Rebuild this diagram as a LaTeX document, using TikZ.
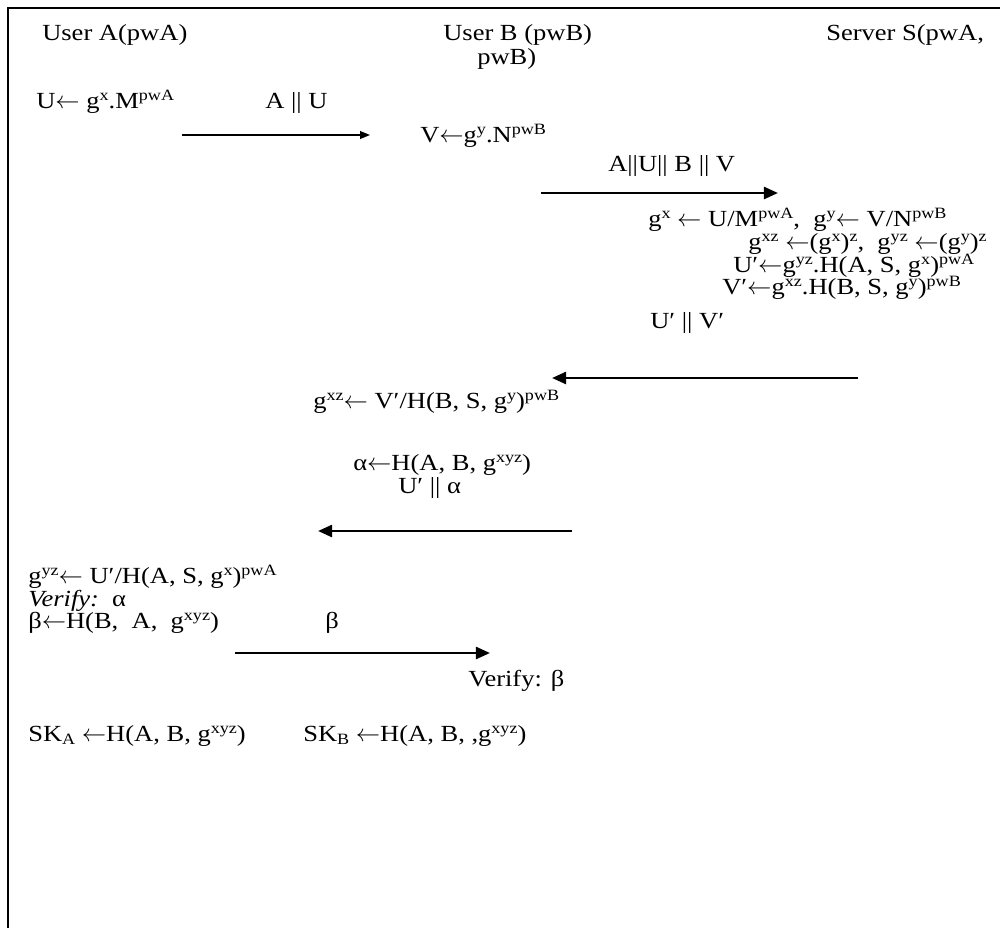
\documentclass[tikz,border=0pt]{standalone}
\usepackage{fontspec}
\setmainfont[FakeStretch=1.15]{Liberation Serif}
\usetikzlibrary{arrows.meta}
\newcommand{\sps}[1]{\raisebox{0.32em}{\fontsize{11.2}{12}\selectfont #1}}
\newcommand{\sbs}[1]{\raisebox{-0.14em}{\fontsize{11.2}{12}\selectfont #1}}
\newcommand{\la}{\ensuremath{\leftarrow}}
\begin{document}
\begin{tikzpicture}
[x=0.025cm,y=-0.025cm,every node/.style={inner sep=0pt,anchor=base west,font=\fontsize{16.4}{20}\selectfont},
 frame/.style={line width=2pt},
 thinmsg/.style={-{Triangle[length=7pt,width=5.5pt]},line width=0.9pt},
 msg/.style={-{Triangle[length=10pt,width=8.5pt]},line width=1.9pt}]
\useasboundingbox (0,0) rectangle (1000,928);
\draw [frame] (8,928) |- (1000,8);
% parties
\node (ua) at (42,40) {User A(pwA)};
\node (ub) at (443,40) {User B (pwB)};
\node (ub2) at (477,64) {pwB)};
\node (srv) at (826,40) {Server S(pwA,};
% A -> B
\node (u) at (36,108) {U\la\ g\sps{x}.M\sps{pwA}};
\node (lau) at (265,108) {A || U};
\coordinate (m1s) at (182,135);
\coordinate (m1e) at (370,135);
\draw [thinmsg] (m1s) to (m1e);
% B -> S
\node (v) at (420,142) {V\la g\sps{y}.N\sps{pwB}};
\node (lauBv) at (608,171) {A||U|| B || V};
\coordinate (m2s) at (541,193);
\coordinate (m2e) at (778,193);
\draw [msg] (m2s) to (m2e);
\node (s1) at (648,226) {g\sps{x} \la\ U/M\sps{pwA},\ \ g\sps{y}\la\ V/N\sps{pwB}};
\node (s2) at (748,249) {g\sps{xz} \la(g\sps{x})\sps{z},\ \ g\sps{yz} \la(g\sps{y})\sps{z}};
\node (s3) at (733,272) {U′\la g\sps{yz}.H(A, S, g\sps{x})\sps{pwA}};
\node (s4) at (722,294) {V′\la g\sps{xz}.H(B, S, g\sps{y})\sps{pwB}};
% S -> B
\node (luv) at (650,328) {U′ || V′};
\coordinate (m3s) at (858,378);
\coordinate (m3e) at (552,378);
\draw [msg] (m3s) to (m3e);
\node (b1) at (313,408) {g\sps{xz}\la\ V′/H(B, S, g\sps{y})\sps{pwB}};
% B -> A
\node (b2) at (353,470) {α\la H(A, B, g\sps{xyz})};
\node (lua) at (398,493) {U′ || α};
\coordinate (m4s) at (572,531);
\coordinate (m4e) at (318,531);
\draw [msg] (m4s) to (m4e);
\node (a1) at (28,583) {g\sps{yz}\la\ U′/H(A, S, g\sps{x})\sps{pwA}};
\node (a2) at (28,606) {\textit{Verify:}\ \ α};
\node (a3) at (28,628) {β\la H(B,\ \ A,\ \ g\sps{xyz})};
% A -> B
\node (lb) at (325,628) {β};
\coordinate (m5s) at (235,653);
\coordinate (m5e) at (490,653);
\draw [msg] (m5s) to (m5e);
\node (b3) at (468,686) {Verify: β};
% session keys
\node (ska) at (28,741) {SK\sbs{A} \la H(A, B, g\sps{xyz})};
\node (skb) at (303,741) {SK\sbs{B} \la H(A, B, ,g\sps{xyz})};
\end{tikzpicture}
\end{document}
